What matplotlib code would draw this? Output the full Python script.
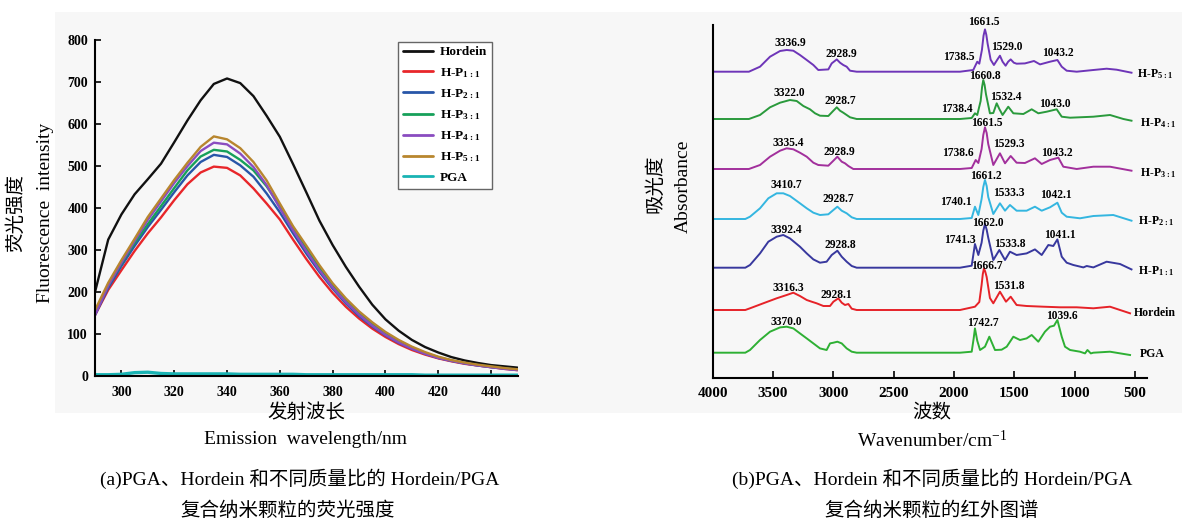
import matplotlib
matplotlib.use('Agg')
import matplotlib.pyplot as plt
from matplotlib.patches import Rectangle

plt.rcParams['mathtext.default'] = 'regular'
plt.rcParams['font.family'] = ['Liberation Serif', 'Noto Sans CJK SC']

# ---------------- (a) fluorescence data ----------------
wavelength = [290, 295, 300, 305, 310, 315, 320, 325, 330, 335, 340, 345, 350, 355, 360,
              365, 370, 375, 380, 385, 390, 395, 400, 405, 410, 415, 420, 425, 430, 435,
              440, 445, 450]
fl_hordein = [200, 325, 385, 433, 469, 506, 557, 609, 657, 696, 709, 698, 667, 620, 570,
              505, 438, 370, 312, 260, 213, 170, 135, 108, 86, 69, 56, 45, 37, 31, 26, 23, 20]
fl_hp11 = [145, 205, 252, 298, 340, 378, 419, 457, 485, 499, 496, 478, 447, 411, 373,
           325, 279, 236, 198, 165, 137, 113, 93, 76, 62, 51, 42, 35, 29, 25, 21, 17, 14]
fl_hp21 = [145, 210, 262, 310, 355, 396, 438, 478, 510, 527, 522, 502, 475, 435, 390,
           340, 292, 248, 208, 173, 143, 118, 97, 79, 65, 53, 43, 36, 30, 25, 21, 18, 15]
fl_hp31 = [150, 215, 268, 317, 362, 405, 448, 490, 523, 539, 535, 515, 490, 452, 405,
           354, 305, 258, 216, 180, 150, 124, 102, 83, 68, 55, 45, 37, 31, 26, 22, 18, 15]
fl_hp41 = [145, 215, 270, 322, 372, 416, 460, 500, 536, 556, 552, 530, 498, 455, 400,
           347, 298, 252, 211, 176, 146, 120, 98, 80, 65, 53, 43, 36, 30, 25, 21, 17, 14]
fl_hp51 = [157, 222, 276, 327, 379, 423, 467, 508, 546, 571, 564, 543, 510, 466, 411,
           357, 311, 264, 221, 185, 154, 128, 105, 86, 70, 57, 46, 38, 32, 27, 23, 19, 16]
fl_pga = [3, 3, 4, 8, 9, 6, 5, 5, 5, 5, 5, 4, 4, 4, 4, 4, 3, 3, 3, 3, 3, 3, 3, 3, 3, 2,
          2, 2, 2, 2, 2, 2, 2]
fl_names = ['Hordein', 'H-P$_{1:1}$', 'H-P$_{2:1}$', 'H-P$_{3:1}$', 'H-P$_{4:1}$',
            'H-P$_{5:1}$', 'PGA']
fl_xticks = [300, 320, 340, 360, 380, 400, 420, 440]
fl_yticks = [0, 100, 200, 300, 400, 500, 600, 700, 800]

# ---------------- (b) IR data (heights above each trace's baseline) ----------------
p51_wn = [3995, 3700, 3608, 3525, 3442, 3387, 3332, 3277, 3221, 3166, 3125, 3042, 3014, 2972,
          2945, 2918, 2890, 2862, 2807, 1951, 1841, 1824, 1808, 1791, 1769, 1756, 1744, 1733,
          1722, 1697, 1670, 1642, 1620, 1598, 1573, 1552, 1531, 1505, 1482, 1413, 1338, 1288,
          1205, 1144, 1108, 1067, 984, 846, 736, 653, 530]
p51_h = [0, 0, 5, 15, 20.7, 21.7, 21, 16.7, 11.7, 6.7, 1.7, 2.3, 8.3, 12.3, 9, 6.7, 5, 1, 0,
         0, 1.7, 6, 10, 8, 22, 36, 42.3, 37, 28, 12, 6.7, 12, 16, 10, 6, 10, 12.3, 9, 8, 8.3,
         10.7, 7.3, 10, 11.7, 5, 1, 0, 1.7, 3, 2, -1]
p41_wn = [3995, 3700, 3608, 3525, 3442, 3360, 3304, 3249, 3194, 3152, 3111, 3042, 3000, 2972,
          2945, 2918, 2890, 2862, 2807, 1951, 1854, 1827, 1808, 1780, 1768, 1758, 1747, 1736,
          1703, 1675, 1647, 1625, 1598, 1551, 1509, 1426, 1357, 1302, 1233, 1150, 1108, 1039,
          846, 708, 597, 530]
p41_h = [0, 0, 4, 11.7, 16.3, 19, 18, 13, 9.7, 5.7, 3.3, 3, 8.3, 11.7, 8.3, 6.3, 4, 1.7, 0, 0,
         1, 5.7, 4, 18, 32, 39, 34, 25, 5.7, 6, 15.7, 10, 4, 12.3, 5.7, 5, 9.7, 5.7, 7.3, 9.7,
         2.3, 1.3, 2.3, 4, 0, -1.7]
p31_wn = [3995, 3700, 3608, 3525, 3442, 3387, 3332, 3277, 3221, 3166, 3125, 3042, 3000, 2967,
          2931, 2904, 2876, 2835, 1951, 1854, 1821, 1799, 1772, 1758, 1744, 1730, 1717, 1675,
          1620, 1578, 1531, 1482, 1413, 1330, 1274, 1205, 1136, 1095, 984, 846, 708, 530]
p31_h = [0, 0, 4, 12.3, 18.3, 20.7, 19.7, 16.3, 12.3, 6.3, 4, 3.3, 8.3, 12.3, 7.3, 5.7, 3, 0,
         0, 1, 9, 6, 20, 34, 41.7, 36, 25, 4, 15.7, 5.7, 13, 6.3, 6, 10.7, 5, 9, 11.3, 2.3, 0,
         2.3, 2.3, -1.7]
p21_wn = [3995, 3730, 3691, 3608, 3539, 3470, 3415, 3360, 3277, 3221, 3166, 3111, 3042, 3000,
          2967, 2931, 2890, 2848, 2807, 1951, 1854, 1827, 1799, 1772, 1758, 1744, 1730, 1717,
          1675, 1620, 1578, 1537, 1482, 1399, 1330, 1274, 1205, 1144, 1108, 1067, 957, 846,
          681, 530]
p21_h = [0, 0, 2.3, 10.7, 20.7, 25.7, 25.7, 23, 15.7, 10.7, 6.3, 4, 4.7, 9, 12.3, 8.3, 5.7,
         1.7, 0, 0, 1, 12.3, 4, 20, 32, 39, 33, 22, 5, 15.7, 8.3, 14, 8.3, 8.3, 12.3, 8.3,
         11.7, 16.3, 6.3, 2.3, 0.7, 3, 4, -1.7]
p11_wn = [3995, 3730, 3691, 3608, 3539, 3470, 3415, 3360, 3277, 3221, 3166, 3111, 3056, 3014,
          2967, 2931, 2890, 2848, 2807, 1951, 1854, 1827, 1799, 1772, 1758, 1744, 1730, 1717,
          1675, 1625, 1578, 1537, 1482, 1399, 1330, 1274, 1219, 1178, 1144, 1108, 1067, 1012,
          929, 901, 846, 736, 625, 530]
p11_h = [0, 0, 2.7, 14.3, 26, 31, 32.7, 29.3, 21, 14.3, 8.3, 5, 6, 12.7, 17, 11, 6, 1.7, 0, 0,
         2, 23.7, 12.7, 25, 37, 43.7, 38, 30, 7.7, 17.7, 7.7, 16, 12.7, 14.3, 18.3, 12.7, 22.7,
         21.7, 28.3, 11, 5, 2.7, 0.3, 1.7, 0.3, 6, 3.7, -1.7]
hord_wn = [3995, 3730, 3691, 3581, 3470, 3387, 3332, 3277, 3221, 3180, 3139, 3083, 3028, 3000,
           2959, 2931, 2904, 2876, 2848, 2807, 1951, 1827, 1791, 1772, 1762, 1752, 1741, 1730,
           1703, 1675, 1620, 1570, 1531, 1482, 1399, 1260, 1122, 984, 846, 708, 542]
hord_h = [0, 0, 1.7, 6.7, 11.7, 15, 17.3, 14, 10, 8.3, 6.7, 4, 4, 8.3, 11.7, 7.3, 5, 6, 1.3, 0,
          0, 3.3, 8, 25, 36, 41.7, 38, 33, 12, 6.7, 18.3, 8.3, 13.3, 5, 4, 3.3, 2.7, 2.7, 1.7,
          3.3, -3.3]
pga_wn = [3995, 3730, 3691, 3608, 3525, 3442, 3387, 3332, 3277, 3221, 3166, 3111, 3056, 3028,
          3000, 2967, 2931, 2890, 2848, 2807, 1951, 1854, 1838, 1827, 1808, 1785, 1744, 1708,
          1661, 1606, 1564, 1509, 1454, 1399, 1357, 1302, 1247, 1205, 1172, 1144, 1108, 1081,
          1039, 957, 915, 895, 867, 846, 708, 542]
pga_h = [0, 0, 2.7, 12.7, 21, 25.3, 26, 24.3, 19.3, 14.3, 9.3, 4.3, 2.7, 9.3, 10, 11, 9.3, 4.3,
         1, 0, 0, 1, 14, 24.3, 12, 2.7, 6, 16, 2.7, 3, 6, 16, 12.7, 14.3, 17.7, 11, 21, 26, 27,
         32.7, 16, 6, 2.7, 1, -0.7, 2.7, -0.7, 0, 1, -2.3]

ir_names = ['H-P$_{5:1}$', 'H-P$_{4:1}$', 'H-P$_{3:1}$', 'H-P$_{2:1}$', 'H-P$_{1:1}$',
            'Hordein', 'PGA']
p51_peaks = ['3336.9', '2928.9', '1738.5', '1661.5', '1529.0', '1043.2']
p41_peaks = ['3322.0', '2928.7', '1738.4', '1660.8', '1532.4', '1043.0']
p31_peaks = ['3335.4', '2928.9', '1738.6', '1661.5', '1529.3', '1043.2']
p21_peaks = ['3410.7', '2928.7', '1740.1', '1661.2', '1533.3', '1042.1']
p11_peaks = ['3392.4', '2928.8', '1741.3', '1662.0', '1533.8', '1041.1']
hord_peaks = ['3316.3', '2928.1', '1666.7', '1531.8']
pga_peaks = ['3370.0', '1742.7', '1039.6']
ir_xticks = [4000, 3500, 3000, 2500, 2000, 1500, 1000, 500]

# ---------------- figure ----------------
W, H = 1182, 521
fig = plt.figure(figsize=(W / 100, H / 100), dpi=100)
fig.patches.append(Rectangle((55 / W, 1 - 413 / H), (W - 55) / W, (413 - 12) / H,
                             transform=fig.transFigure, facecolor='#f7f7f7',
                             edgecolor='none', zorder=-5))

SERIF = 'Liberation Serif'
MIX = ['Liberation Serif', 'Noto Sans CJK SC']

# ---- (a)
ax1 = fig.add_axes([95 / W, 1 - 376 / H, (517.5 - 95) / W, (376 - 40.3) / H])
ax1.set_facecolor('none')
fl_colors = ['#111111', '#e8262a', '#2856a8', '#16a05a', '#8a4cc0', '#b8862e', '#19b3b3']
fl_series = [fl_hordein, fl_hp11, fl_hp21, fl_hp31, fl_hp41, fl_hp51, fl_pga]
for ser, col, name in zip(fl_series, fl_colors, fl_names):
    lw = 2.4 if name == 'PGA' else 1.7
    ax1.plot(wavelength, ser, color=col, lw=lw, label=name, solid_capstyle='round')
ax1.set_xlim(290, 450)
ax1.set_ylim(0, 800)
ax1.set_xticks(fl_xticks)
ax1.set_yticks(fl_yticks)
for s in ['top', 'right']:
    ax1.spines[s].set_visible(False)
for s in ['left', 'bottom']:
    ax1.spines[s].set_linewidth(1.5)
ax1.tick_params(direction='in', length=4, width=1.2, labelsize=10, pad=5)
ax1.tick_params(axis='x', pad=7)
for lab in ax1.get_xticklabels() + ax1.get_yticklabels():
    lab.set_fontfamily(SERIF)
    lab.set_fontweight('bold')
leg = ax1.legend(loc='upper right', bbox_to_anchor=(0.939, 0.996), borderaxespad=0,
                 prop={'family': SERIF, 'weight': 'bold', 'size': 9.5},
                 handlelength=2.3, handletextpad=0.5, labelspacing=0.56,
                 borderpad=0.35, fancybox=False, framealpha=1)
leg.get_frame().set_edgecolor('#666666')
leg.get_frame().set_linewidth(1.0)
for ln in leg.get_lines():
    ln.set_linewidth(2.0)

fig.text(16 / W, 1 - 213 / H, '荧光强度', rotation=90, ha='center', va='center',
         fontsize=14, family=MIX)
fig.text(45 / W, 1 - 213 / H, 'Fluorescence  intensity', rotation=90, ha='center',
         va='center', fontsize=14, family=SERIF)
fig.text(306 / W, 1 - 413 / H, '发射波长', ha='center', va='center', fontsize=14, family=MIX)
fig.text(306 / W, 1 - 440 / H, 'Emission  wavelength/nm', ha='center', va='center',
         fontsize=14, family=SERIF)
fig.text(300 / W, 1 - 479 / H, '(a)PGA、Hordein 和不同质量比的 Hordein/PGA', ha='center',
         va='center', fontsize=14, family=MIX)
fig.text(288 / W, 1 - 511 / H, '复合纳米颗粒的荧光强度', ha='center', va='center',
         fontsize=14, family=MIX)

# ---- (b)
ax2 = fig.add_axes([712.7 / W, 1 - 377.7 / H, (1146.7 - 712.7) / W, (377.7 - 25) / H])
ax2.set_facecolor('none')
ir_offsets = [306, 258.7, 208.7, 158.7, 110, 67.7, 25]
ir_colors = ['#6e35b8', '#2a9a3c', '#a2309c', '#34b6e0', '#38389e', '#e62228', '#2eb034']
ir_wn = [p51_wn, p41_wn, p31_wn, p21_wn, p11_wn, hord_wn, pga_wn]
ir_h = [p51_h, p41_h, p31_h, p21_h, p11_h, hord_h, pga_h]
for wn, hh, off, col in zip(ir_wn, ir_h, ir_offsets, ir_colors):
    ax2.plot(wn, [off + v for v in hh], color=col, lw=1.4)
ax2.set_xlim(4000, 404)
ax2.set_ylim(0, 352.7)
ax2.set_xticks(ir_xticks)
ax2.set_yticks([])
for s in ['top', 'right']:
    ax2.spines[s].set_visible(False)
for s in ['left', 'bottom']:
    ax2.spines[s].set_linewidth(1.5)
ax2.tick_params(axis='x', direction='in', length=5, width=1.2, labelsize=11, pad=7)
for lab in ax2.get_xticklabels():
    lab.set_fontfamily(SERIF)
    lab.set_fontweight('bold')

peak_sets = [p51_peaks, p41_peaks, p31_peaks, p21_peaks, p11_peaks, hord_peaks, pga_peaks]
peak_pos = [
    [(3354, 334.4), (2931, 323.4), (1965, 320.4), (1757, 356.0), (1564, 330.4), (1136, 324.4)],
    [(3368, 284.4), (2944, 277.0), (1978, 268.7), (1745, 301.7), (1568, 280.4), (1166, 273.7)],
    [(3373, 234.4), (2951, 226.0), (1965, 225.0), (1725, 255.0), (1550, 233.7), (1152, 225.0)],
    [(3393, 192.7), (2959, 178.4), (1984, 176.0), (1739, 201.7), (1550, 184.4), (1156, 182.7)],
    [(3393, 147.7), (2945, 132.7), (1951, 137.7), (1722, 155.0), (1536, 133.7), (1125, 142.7)],
    [(3374, 89.4), (2972, 82.7), (1727, 111.7), (1547, 91.7)],
    [(3387, 56.0), (1762, 54.4), (1108, 61.7)],
]
for texts, poss in zip(peak_sets, peak_pos):
    for t, (x, y) in zip(texts, poss):
        ax2.text(x, y, t, ha='center', va='center', fontsize=8.3, family=SERIF,
                 fontweight='bold')
name_pos = [(486, 300.4), (459, 252.0), (459, 202.0), (473, 153.7), (473, 103.7),
            (509, 62.0), (459, 21.0)]
for name, (x, y) in zip(ir_names, name_pos):
    ax2.text(x, y, name, ha='left', va='baseline', fontsize=8.5, family=SERIF,
             fontweight='bold', clip_on=False)

fig.text(655 / W, 1 - 184 / H, '吸光度', rotation=90, ha='center', va='center',
         fontsize=14, family=MIX)
fig.text(683 / W, 1 - 186 / H, 'Absorbance', rotation=90, ha='center', va='center',
         fontsize=14, family=SERIF)
fig.text(932 / W, 1 - 413 / H, '波数', ha='center', va='center', fontsize=14, family=MIX)
fig.text(932 / W, 1 - 440 / H, 'Wavenumber/cm$^{-1}$', ha='center', va='center',
         fontsize=14, family=SERIF)
fig.text(932 / W, 1 - 479 / H, '(b)PGA、Hordein 和不同质量比的 Hordein/PGA', ha='center',
         va='center', fontsize=14, family=MIX)
fig.text(932 / W, 1 - 511 / H, '复合纳米颗粒的红外图谱', ha='center', va='center',
         fontsize=14, family=MIX)

fig.savefig('out.png', dpi=100)
